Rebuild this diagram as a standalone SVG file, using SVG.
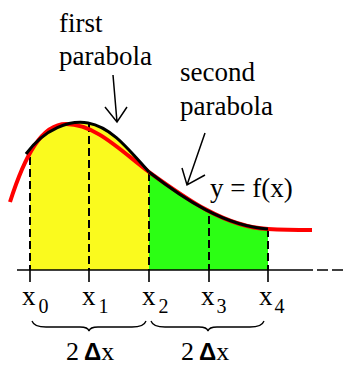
<svg xmlns="http://www.w3.org/2000/svg" width="347" height="366" viewBox="0 0 347 366">
<style>
.t{font-size:27px;fill:#000}
.sub{font-size:20px}
.lbl{font-size:26px}
.dl{font-weight:bold;font-size:24px}
.dash{stroke:#000;stroke-width:2;stroke-dasharray:8 4;fill:none}
.tick{stroke:#000;stroke-width:1.6;fill:none}
.arr{stroke:#000;stroke-width:1.5;fill:none}
.brace{stroke:#000;stroke-width:1.3;fill:none}
</style>
<defs>
<clipPath id="c1"><rect x="30" y="100" width="119" height="170"/></clipPath>
</defs>
<rect width="347" height="366" fill="#fff"/>
<g id="areas">
<path d="M26,154 C45,128 70,120 88,123 C110,127 125,145 149,172 L149,270 L26,270 Z" fill="#fafa1e" clip-path="url(#c1)"/>
<path d="M149,172 C185,200 225,226 268,229 L268,270 L149,270 Z" fill="#2cff14"/>
</g>
<g id="dashes">
<path class="dash" d="M30,157 V270 M89,124 V270 M149,173 V270 M209,216 V270 M268,229 V270"/>
</g>
<g id="curve-red">
<path d="M10,202 C25,155 42,124 66,124 C95,124 120,150 149,172 C185,198 225,227 268,229 C285,230 300,230 312,230" fill="none" stroke="#ff0000" stroke-width="4"/>
</g>
<g id="parabolas">
<path d="M26,154 C45,128 70,120 88,123 C110,127 125,145 149,172" fill="none" stroke="#000" stroke-width="3"/>
<path d="M149,172 C185,200 225,226 268,229" fill="none" stroke="#000" stroke-width="3"/>
</g>
<g id="axis">
<line x1="17" y1="270" x2="313" y2="270" stroke="#000" stroke-width="1.6"/>
<line x1="317" y1="270" x2="347" y2="270" stroke="#000" stroke-width="1.6" stroke-dasharray="11 4"/>
<path class="tick" d="M30,270 V282 M89,270 V282 M149,270 V282 M209,270 V282 M268,270 V282"/>
</g>
<g id="connectors">
<path class="arr" d="M113,75 L117,122 M105,107 L117,122 L127,107"/>
<path class="arr" d="M205,133 L187,185 M182,168 L187,185 L205,175"/>
</g>
<g id="labels" font-family="Liberation Serif, Times New Roman, serif">
<text class="t" x="59" y="32">first</text>
<text class="t" x="59" y="65">parabola</text>
<text class="t" x="180" y="81">second</text>
<text class="t" x="180" y="115">parabola</text>
<text class="t" x="210" y="197">y = f(x)</text>
</g>
<g id="xlabels" font-family="Liberation Serif, Times New Roman, serif">
<text class="t" x="22" y="305">x<tspan class="sub" dx="3" dy="8">0</tspan></text>
<text class="t" x="82" y="305">x<tspan class="sub" dx="3" dy="8">1</tspan></text>
<text class="t" x="142" y="305">x<tspan class="sub" dx="3" dy="8">2</tspan></text>
<text class="t" x="201" y="305">x<tspan class="sub" dx="2" dy="8">3</tspan></text>
<text class="t" x="259" y="305">x<tspan class="sub" dx="2" dy="8">4</tspan></text>
</g>
<g id="braces">
<path class="brace" d="M32,321 Q34,327 46,327 L80,327 Q88,327 89,331 Q90,327 98,327 L132,327 Q144,327 146,321"/>
<path class="brace" d="M151,321 Q153,327 165,327 L199,327 Q207,327 208,331 Q209,327 217,327 L250,327 Q262,327 264,321"/>
</g>
<g id="delta-labels" font-family="Liberation Serif, Times New Roman, serif">
<text class="t lbl" x="66" y="360">2<tspan class="dl" dx="5" font-family="Liberation Sans, Arial, sans-serif">Δ</tspan>x</text>
<text class="t lbl" x="181" y="360">2<tspan class="dl" dx="5" font-family="Liberation Sans, Arial, sans-serif">Δ</tspan>x</text>
</g>
</svg>
